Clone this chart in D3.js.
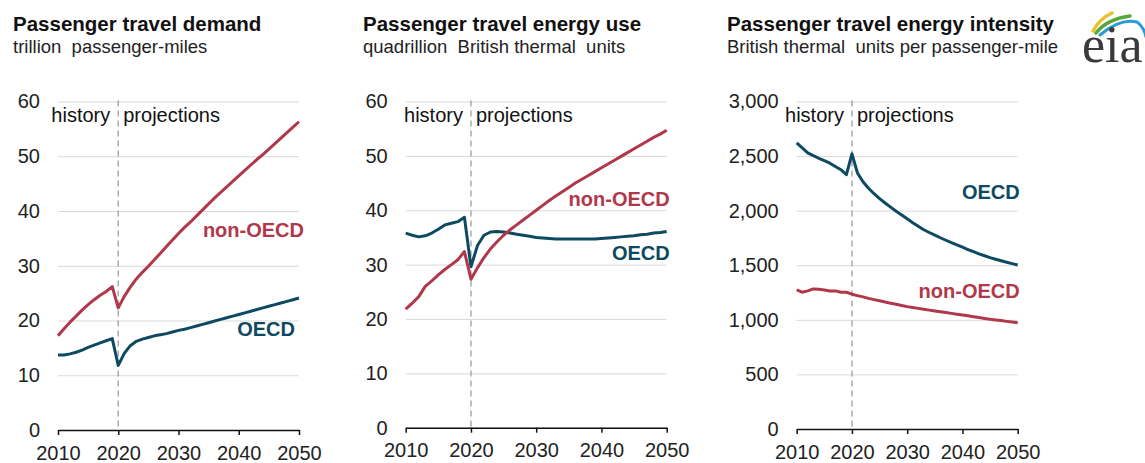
<!DOCTYPE html>
<html>
<head>
<meta charset="utf-8">
<script src="https://cdn.jsdelivr.net/npm/d3@7"></script>
<style>
  body { margin: 0; background: #fff; }
  text { font-family: "Liberation Sans", Arial, sans-serif; }
</style>
</head>
<body>
<div id="chart"></div>
<script>
// years on the x axis
const years = d3.range(2010, 2051);

// passenger travel demand, trillion passenger-miles
const demandOECD = [13.7, 13.7, 13.9, 14.2, 14.6, 15.1, 15.5, 15.9, 16.3, 16.7,
  11.8, 14.0, 15.4, 16.2, 16.6, 16.9, 17.2, 17.4, 17.6, 17.9, 18.2,
  18.4, 18.7, 19.0, 19.3, 19.6, 19.9, 20.2, 20.5, 20.8, 21.1,
  21.4, 21.7, 22.0, 22.3, 22.6, 22.9, 23.2, 23.5, 23.8, 24.1];
const demandNonOECD = [17.2, 18.5, 19.7, 20.8, 21.9, 22.9, 23.8, 24.6, 25.3, 26.2,
  22.3, 24.4, 26.1, 27.6, 28.8, 29.9, 31.1, 32.3, 33.5, 34.7, 35.9,
  37.0, 38.0, 39.1, 40.2, 41.3, 42.4, 43.4, 44.4, 45.4, 46.4,
  47.4, 48.4, 49.4, 50.3, 51.3, 52.3, 53.3, 54.3, 55.3, 56.3];

// passenger travel energy use, quadrillion Btu
const energyOECD = [35.8, 35.4, 35.1, 35.3, 35.8, 36.5, 37.3, 37.6, 37.9, 38.7,
  29.6, 33.5, 35.4, 36.0, 36.1, 36.0, 35.8, 35.6, 35.4, 35.2, 35.0,
  34.9, 34.8, 34.7, 34.7, 34.7, 34.7, 34.7, 34.7, 34.7, 34.8,
  34.9, 35.0, 35.1, 35.2, 35.3, 35.5, 35.6, 35.8, 35.9, 36.1];
const energyNonOECD = [21.8, 22.9, 24.1, 26.0, 27.0, 28.1, 29.1, 30.0, 30.9, 32.4,
  27.3, 29.4, 31.3, 32.9, 34.2, 35.4, 36.4, 37.3, 38.2, 39.1, 40.0,
  40.9, 41.8, 42.6, 43.4, 44.2, 45.0, 45.7, 46.4, 47.1, 47.8,
  48.5, 49.2, 49.9, 50.6, 51.3, 52.0, 52.7, 53.4, 54.0, 54.7];

// passenger travel energy intensity, Btu per passenger-mile
const intensityOECD = [2620, 2575, 2530, 2505, 2480, 2458, 2435, 2405, 2375, 2330,
  2520, 2345, 2265, 2205, 2155, 2110, 2070, 2032, 1995, 1960, 1925,
  1890, 1857, 1825, 1800, 1776, 1752, 1729, 1707, 1686, 1665,
  1644, 1624, 1605, 1587, 1570, 1555, 1541, 1528, 1515, 1503];
const intensityNonOECD = [1274, 1253, 1265, 1283, 1280, 1274, 1265, 1265, 1253, 1253,
  1235, 1222, 1210, 1197, 1185, 1174, 1163, 1152, 1142, 1131, 1121,
  1113, 1105, 1097, 1089, 1081, 1074, 1067, 1059, 1052, 1045,
  1037, 1029, 1021, 1013, 1005, 999, 993, 986, 980, 974];

const xTicks = [2010, 2020, 2030, 2040, 2050];
const pctTicks = [0, 10, 20, 30, 40, 50, 60];
const btuTicks = [0, 500, 1000, 1500, 2000, 2500, 3000];

const red = "#b0384a", blue = "#0d4a62";

const svg = d3.select("#chart").append("svg")
  .attr("width", 1145)
  .attr("height", 463);

const panels = [
  { title: "Passenger travel demand", subtitle: "trillion  passenger-miles",
    left: 13, x: [58, 299], y: [430, 101.5], yMax: 60, ticks: pctTicks, fmt: d3.format("d"),
    oecd: demandOECD, non: demandNonOECD,
    oecdLab: [2050, 17.2, -4], nonLab: [2050, 35.3, 5] },
  { title: "Passenger travel energy use", subtitle: "quadrillion  British thermal  units",
    left: 363, x: [405.7, 666.7], y: [427.7, 101.5], yMax: 60, ticks: pctTicks, fmt: d3.format("d"),
    oecd: energyOECD, non: energyNonOECD,
    oecdLab: [2050, 30.8, 3], nonLab: [2050, 40.7, 3] },
  { title: "Passenger travel energy intensity", subtitle: "British thermal  units per passenger-mile",
    left: 727, x: [796.7, 1017.7], y: [429, 101.5], yMax: 3000, ticks: btuTicks, fmt: d3.format(","),
    oecd: intensityOECD, non: intensityNonOECD,
    oecdLab: [2050, 2108, 2], nonLab: [2050, 1198, 2] }
];

panels.forEach(p => {
  const x = d3.scaleLinear().domain([2010, 2050]).range(p.x);
  const y = d3.scaleLinear().domain([0, p.yMax]).range(p.y);
  const g = svg.append("g");

  // titles
  g.append("text").attr("x", p.left).attr("y", 31)
    .attr("font-size", 20.5).attr("font-weight", "bold").attr("fill", "#111")
    .text(p.title);
  g.append("text").attr("x", p.left).attr("y", 53)
    .attr("font-size", 18.5).attr("fill", "#222")
    .style("white-space", "pre")
    .text(p.subtitle);

  // gridlines + y labels
  const yAxis = g.append("g")
    .attr("transform", `translate(${p.x[0]},0)`)
    .call(d3.axisLeft(y).tickValues(p.ticks).tickFormat(p.fmt)
      .tickSize(-(p.x[1] - p.x[0])).tickPadding(18));
  yAxis.select(".domain").remove();
  yAxis.selectAll(".tick line").attr("stroke", "#d9d9d9").attr("stroke-width", 1);
  yAxis.selectAll(".tick text").attr("font-size", 20).attr("fill", "#222")
    .style("font-family", "'Liberation Sans', Arial, sans-serif");

  // history / projections divider
  g.append("line")
    .attr("x1", x(2020)).attr("x2", x(2020))
    .attr("y1", y(p.yMax) - 1).attr("y2", y(0))
    .attr("stroke", "#aaa").attr("stroke-width", 1.5)
    .attr("stroke-dasharray", "6,4");
  g.append("text").attr("x", x(2020) - 8).attr("y", 122)
    .attr("text-anchor", "end").attr("font-size", 20).attr("fill", "#111")
    .text("history");
  g.append("text").attr("x", x(2020) + 5).attr("y", 122)
    .attr("font-size", 20).attr("fill", "#111")
    .text("projections");

  // x axis
  const xAxis = g.append("g")
    .attr("transform", `translate(0,${p.y[0]})`)
    .call(d3.axisBottom(x).tickValues(xTicks).tickFormat(d3.format("d"))
      .tickSize(5).tickSizeOuter(0).tickPadding(10.5));
  xAxis.select(".domain").attr("stroke", "#111").attr("stroke-width", 1.5);
  xAxis.selectAll(".tick line").attr("stroke", "#111").attr("stroke-width", 1.5);
  xAxis.selectAll(".tick text").attr("font-size", 20).attr("fill", "#222")
    .style("font-family", "'Liberation Sans', Arial, sans-serif");

  // lines
  const line = d3.line().x((d, i) => x(years[i])).y(d => y(d));
  g.append("path").datum(p.oecd)
    .attr("fill", "none").attr("stroke", blue).attr("stroke-width", 3)
    .attr("stroke-linejoin", "round").attr("d", line);
  g.append("path").datum(p.non)
    .attr("fill", "none").attr("stroke", red).attr("stroke-width", 3)
    .attr("stroke-linejoin", "round").attr("d", line);

  // series labels
  g.append("text").attr("x", x(p.oecdLab[0]) + p.oecdLab[2]).attr("y", y(p.oecdLab[1]))
    .attr("text-anchor", "end").attr("font-size", 20).attr("font-weight", "bold")
    .attr("fill", blue).text("OECD");
  g.append("text").attr("x", x(p.nonLab[0]) + p.nonLab[2]).attr("y", y(p.nonLab[1]))
    .attr("text-anchor", "end").attr("font-size", 20).attr("font-weight", "bold")
    .attr("fill", red).text("non-OECD");
});

// eia logo
const logo = svg.append("g");
logo.append("path").attr("d", "M1093,31 Q1099,19 1112,13")
  .attr("fill", "none").attr("stroke", "#e8c22c").attr("stroke-width", 3.5).attr("stroke-linecap", "round");
logo.append("path").attr("d", "M1096,33 Q1107,19 1130,16")
  .attr("fill", "none").attr("stroke", "#5aa637").attr("stroke-width", 3.5).attr("stroke-linecap", "round");
logo.append("path").attr("d", "M1100,35 Q1120,18 1137,22 Q1144,27 1146,37")
  .attr("fill", "none").attr("stroke", "#2a9bd5").attr("stroke-width", 3).attr("stroke-linecap", "round");
logo.append("text").attr("x", 1082).attr("y", 62)
  .attr("font-size", 52).attr("fill", "#3a3a3a")
  .style("font-family", "'Liberation Serif', 'Times New Roman', serif")
  .text("eia");
</script>
</body>
</html>
